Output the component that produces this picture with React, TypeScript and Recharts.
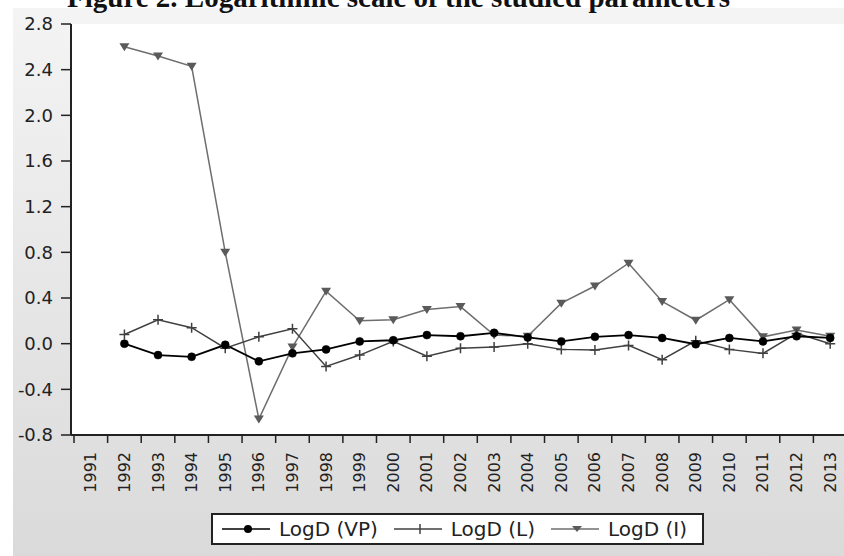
import React from 'react';
import {
  LineChart,
  Line,
  XAxis,
  YAxis,
  CartesianGrid,
  Legend,
} from 'recharts';

const years = [
  1992, 1993, 1994, 1995, 1996, 1997, 1998, 1999, 2000, 2001, 2002,
  2003, 2004, 2005, 2006, 2007, 2008, 2009, 2010, 2011, 2012, 2013,
];
const logVP = [
  0.0, -0.1, -0.115, -0.01, -0.155, -0.085, -0.05, 0.02, 0.03, 0.075, 0.065,
  0.095, 0.055, 0.02, 0.06, 0.075, 0.05, -0.005, 0.05, 0.02, 0.065, 0.05,
];
const logL = [
  0.08, 0.21, 0.14, -0.04, 0.06, 0.13, -0.2, -0.1, 0.02, -0.11, -0.04,
  -0.03, 0.0, -0.05, -0.055, -0.015, -0.14, 0.025, -0.05, -0.085, 0.09, 0.0,
];
const logI = [
  2.6, 2.52, 2.43, 0.8, -0.66, -0.03, 0.46, 0.2, 0.21, 0.3, 0.325,
  0.075, 0.065, 0.355, 0.505, 0.705, 0.37, 0.205, 0.385, 0.06, 0.12, 0.065,
];
const yearTicks = [
  1991, 1992, 1993, 1994, 1995, 1996, 1997, 1998, 1999, 2000, 2001, 2002,
  2003, 2004, 2005, 2006, 2007, 2008, 2009, 2010, 2011, 2012, 2013,
];
const yTicks = [-0.8, -0.4, 0.0, 0.4, 0.8, 1.2, 1.6, 2.0, 2.4, 2.8];
const title = 'Figure 2. Logarithmic scale of the studied parameters';

const data = years.map((year, i) => ({
  year,
  vp: logVP[i],
  l: logL[i],
  i: logI[i],
}));

// tick marks sit on the year boundaries, labels in the middle
const boundaryTicks = yearTicks.map((y) => y - 0.5);
const xDomain = [yearTicks[0] - 0.5, yearTicks[yearTicks.length - 1] + 0.5];

const FONT = '"DejaVu Sans", sans-serif';
const C_VP = '#000000';
const C_L = '#404040';
const C_I = '#6e6e6e';

const PlusDot = (props: any) => {
  const { cx, cy, index } = props;
  if (cx == null || cy == null) return <g key={index} />;
  return (
    <path
      key={index}
      d={`M${cx - 5},${cy}H${cx + 5}M${cx},${cy - 5}V${cy + 5}`}
      stroke={C_L}
      strokeWidth={1.5}
    />
  );
};

const TriDot = (props: any) => {
  const { cx, cy, index } = props;
  if (cx == null || cy == null) return <g key={index} />;
  return (
    <path
      key={index}
      d={`M${cx - 5},${cy - 3.5}L${cx + 5},${cy - 3.5}L${cx},${cy + 4.5}Z`}
      fill="#5a5a5a"
      stroke="none"
    />
  );
};

const YearLabel = (props: any) => {
  const { x, y, payload } = props;
  return (
    <text
      x={x}
      y={y}
      transform={`rotate(-90, ${x}, ${y})`}
      textAnchor="end"
      dominantBaseline="central"
      fontFamily={FONT}
      fontSize={16}
      fill="#222"
    >
      {payload.value}
    </text>
  );
};

const legendItems = [
  { label: 'LogD (VP)', color: C_VP, mark: 'dot' },
  { label: 'LogD (L)', color: C_L, mark: 'plus' },
  { label: 'LogD (I)', color: C_I, mark: 'tri' },
];

const LegendBox = () => (
  <div
    style={{
      boxSizing: 'border-box',
      width: 493,
      height: 32,
      border: '2px solid #222',
      background: '#fff',
      display: 'flex',
      alignItems: 'center',
      paddingLeft: 9,
      fontFamily: FONT,
      fontSize: 20,
      color: '#222',
    }}
  >
    {legendItems.map((it) => (
      <div key={it.label} style={{ display: 'flex', alignItems: 'center', marginRight: 16 }}>
        <svg width={48} height={12} style={{ marginRight: 9 }}>
          <line x1={0} y1={6} x2={48} y2={6} stroke={it.color} strokeWidth={1.5} />
          {it.mark === 'dot' && <circle cx={26} cy={6} r={4} fill={C_VP} />}
          {it.mark === 'plus' && (
            <path d="M26,1V11" stroke={C_L} strokeWidth={1.5} />
          )}
          {it.mark === 'tri' && <path d="M21,3L31,3L26,9Z" fill="#5a5a5a" />}
        </svg>
        <span style={{ whiteSpace: 'nowrap' }}>{it.label}</span>
      </div>
    ))}
  </div>
);

export default function App() {
  return (
    <div
      style={{
        position: 'fixed',
        left: 0,
        top: 0,
        width: 844,
        height: 556,
        overflow: 'hidden',
        background: '#fff',
      }}
    >
      <div
        style={{
          position: 'absolute',
          left: 13,
          top: 8,
          right: 0,
          bottom: 0,
          background: 'linear-gradient(#f4f4f4, #dadada)',
        }}
      />
      <svg
        width={844}
        height={20}
        style={{ position: 'absolute', left: 0, top: 0 }}
      >
        <text
          x={67}
          y={7}
          fontFamily='"Liberation Serif", serif'
          fontWeight="bold"
          fontSize={29}
          fill="#111"
        >
          {title}
        </text>
      </svg>
      <div style={{ position: 'absolute', left: 0, top: 0 }}>
        <LineChart
          width={847}
          height={556}
          data={data}
          margin={{ top: 24, right: 0, bottom: 52, left: 0 }}
        >
          <CartesianGrid
            xAxisId="frame"
            horizontal={false}
            vertical={false}
            fill="#ffffff"
            fillOpacity={1}
          />
          <XAxis
            xAxisId="frame"
            dataKey="year"
            type="number"
            domain={xDomain}
            ticks={boundaryTicks}
            interval={0}
            padding={{ left: 3, right: 0 }}
            height={9}
            tickSize={8}
            tickFormatter={() => ''}
            stroke="#222"
            axisLine={{ stroke: '#222', strokeWidth: 2 }}
            tickLine={{ stroke: '#222', strokeWidth: 1.5 }}
          />
          <XAxis
            xAxisId="years"
            dataKey="year"
            type="number"
            domain={xDomain}
            ticks={yearTicks}
            interval={0}
            padding={{ left: 3, right: 0 }}
            height={60}
            axisLine={false}
            tickLine={false}
            tickSize={0}
            tickMargin={8}
            tick={<YearLabel />}
          />
          <XAxis
            xAxisId="top"
            orientation="top"
            dataKey="year"
            type="number"
            domain={xDomain}
            height={0}
            tick={false}
            tickLine={false}
            axisLine={{ stroke: '#222', strokeWidth: 2 }}
          />
          <YAxis
            domain={[-0.8, 2.8]}
            ticks={yTicks}
            interval={0}
            width={71}
            tickSize={10}
            tickMargin={8}
            tickFormatter={(v: number) => v.toFixed(1)}
            tick={{ fontFamily: FONT, fontSize: 18, fill: '#222' }}
            axisLine={{ stroke: '#222', strokeWidth: 2 }}
            tickLine={{ stroke: '#222', strokeWidth: 1.5 }}
          />
          <Legend
            layout="horizontal"
            verticalAlign="middle"
            align="center"
            wrapperStyle={{ top: 513, left: 211, width: 493, height: 32 }}
            content={() => <LegendBox />}
          />
          <Line
            xAxisId="frame"
            dataKey="i"
            type="linear"
            stroke={C_I}
            strokeWidth={1.5}
            dot={(p: any) => <TriDot {...p} />}
            isAnimationActive={false}
          />
          <Line
            xAxisId="frame"
            dataKey="l"
            type="linear"
            stroke={C_L}
            strokeWidth={1.5}
            dot={(p: any) => <PlusDot {...p} />}
            isAnimationActive={false}
          />
          <Line
            xAxisId="frame"
            dataKey="vp"
            type="linear"
            stroke={C_VP}
            strokeWidth={1.8}
            dot={{ r: 4, fill: C_VP, stroke: C_VP, strokeWidth: 0.5 }}
            isAnimationActive={false}
          />
        </LineChart>
      </div>
    </div>
  );
}
